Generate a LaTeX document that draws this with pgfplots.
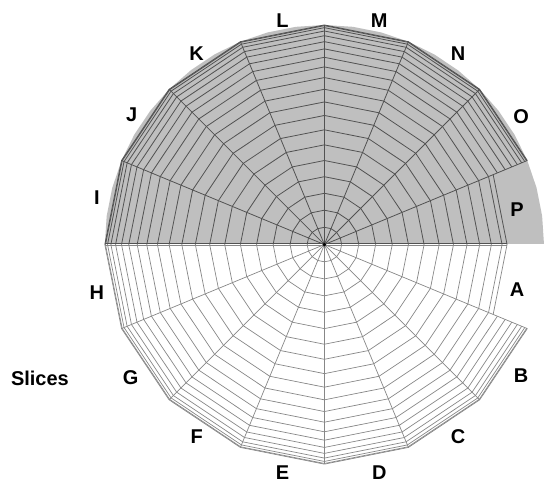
\documentclass[border=0pt]{standalone}
\usepackage{pgfplots}
\pgfplotsset{compat=1.18}
\usepackage{fontspec}
\setmainfont{Liberation Sans}
\definecolor{fillgray}{RGB}{191,191,191}
\definecolor{topline}{RGB}{82,82,82}
\definecolor{botline}{RGB}{135,135,135}
\begin{document}
\begin{tikzpicture}
\begin{axis}[scale only axis, width=545pt, height=485pt,
  xmin=-325, xmax=220, ymin=-240, ymax=245, hide axis, clip=false,
  every axis plot/.append style={line join=round}]
\path (rel axis cs:0,0) rectangle (rel axis cs:1,1);
% gray upper half disc
\addplot[fill=fillgray, draw=none, data cs=polar] coordinates {
 (0,220) (7.5,220) (15,220) (22.5,220) (30,220) (37.5,220) (45,220) (52.5,220)
 (60,220) (67.5,220) (75,220) (82.5,220) (90,220) (97.5,220) (105,220) (112.5,220)
 (120,220) (127.5,220) (135,220) (142.5,220) (150,220) (157.5,220) (165,220)
 (172.5,220) (180,220) (0,0)} -- cycle;
% horizontal split
\addplot[fill=white, draw=none] coordinates {(-221,-0.9) (221,-0.9) (221,0.9) (-221,0.9)} -- cycle;
% inner rings (all 16 slices)
\pgfplotsinvokeforeach{17.26,34.41,51.36,67.98,84.19,99.88,114.95,129.31,142.88,155.56,167.29,177.98}{
 \addplot[topline, line width=0.8pt, data cs=polar] coordinates {(0,#1) (22.5,#1) (45,#1) (67.5,#1) (90,#1) (112.5,#1) (135,#1) (157.5,#1) (180,#1)};
 \addplot[botline, line width=0.7pt, data cs=polar] coordinates {(180,#1) (202.5,#1) (225,#1) (247.5,#1) (270,#1) (292.5,#1) (315,#1) (337.5,#1) (360,#1)};
}
% outermost ring of slices A and P
\addplot[topline, line width=0.8pt, data cs=polar] coordinates {(0,183) (22.5,183)};
\addplot[botline, line width=0.7pt, data cs=polar] coordinates {(337.5,183) (360,183)};
% outer rings (slices B to O)
\pgfplotsinvokeforeach{187.58,196.02,203.25,209.23,213.92,217.29,219.32,220}{
 \addplot[topline, line width=0.8pt, data cs=polar] coordinates {(22.5,#1) (45,#1) (67.5,#1) (90,#1) (112.5,#1) (135,#1) (157.5,#1) (180,#1)};
 \addplot[botline, line width=0.7pt, data cs=polar] coordinates {(180,#1) (202.5,#1) (225,#1) (247.5,#1) (270,#1) (292.5,#1) (315,#1) (337.5,#1)};
}
% spokes
\pgfplotsinvokeforeach{22.5,45,67.5,90,112.5,135,157.5}{
 \addplot[topline, line width=0.8pt, data cs=polar] coordinates {(#1,0) (#1,220)};
}
\pgfplotsinvokeforeach{202.5,225,247.5,270,292.5,315,337.5}{
 \addplot[botline, line width=0.7pt, data cs=polar] coordinates {(#1,0) (#1,220)};
}
\addplot[topline, line width=0.7pt] coordinates {(-220,0.9) (183,0.9)};
\addplot[botline, line width=0.6pt] coordinates {(-220,-0.9) (183,-0.9)};
\addplot[only marks, mark=*, mark size=1.6pt, black] coordinates {(0,0)};
% labels
\begin{scope}[every node/.style={font=\fontsize{20}{24}\selectfont\bfseries}]
\node at (axis cs:193,-45) {A};
\node at (axis cs:197,-131) {B};
\node at (axis cs:134,-192) {C};
\node at (axis cs:55,-228) {D};
\node at (axis cs:-42,-228) {E};
\node at (axis cs:-128,-192) {F};
\node at (axis cs:-194,-133) {G};
\node at (axis cs:-228,-48) {H};
\node at (axis cs:-228,47) {I};
\node at (axis cs:-193,130) {J};
\node at (axis cs:-128,191) {K};
\node at (axis cs:-42,224) {L};
\node at (axis cs:55,224) {M};
\node at (axis cs:134,191) {N};
\node at (axis cs:197,128) {O};
\node at (axis cs:193,35) {P};
\node at (axis cs:-285,-134) {Slices};
\end{scope}
\end{axis}
\end{tikzpicture}
\end{document}
